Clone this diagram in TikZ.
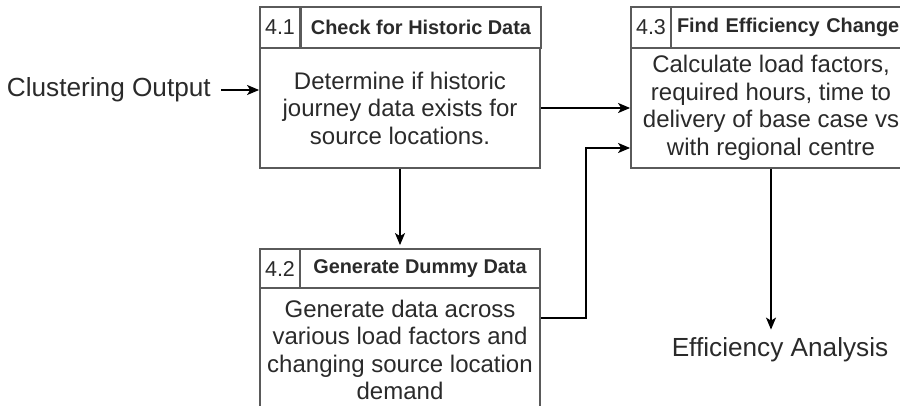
\documentclass[tikz,border=0pt]{standalone}
\usepackage{fontspec}
\setmainfont{Liberation Sans}
\usetikzlibrary{arrows.meta,calc}
\definecolor{boxline}{HTML}{5A5A5A}
\definecolor{txt}{HTML}{2A2A2A}
\tikzset{
  cellbase/.style={draw=boxline, line width=1.8pt, inner sep=0pt, anchor=center, text=txt},
  numcell/.style={cellbase, minimum width=40pt, font=\fontsize{21.5}{24}\selectfont},
  titlecell/.style={cellbase, minimum width=240pt, font=\bfseries\fontsize{19.9}{24}\selectfont},
  bodycell/.style={cellbase, minimum width=280pt, align=center, font=\fontsize{24}{27.5}\selectfont},
  plainlabel/.style={text=txt, inner sep=0pt, font=\fontsize{26.2}{30}\selectfont},
  flow/.style={draw=black, line width=1.5pt, -{Stealth[length=12pt,width=10pt,inset=3pt]}},
}
\begin{document}
\begin{tikzpicture}[x=1pt,y=-1pt]
\useasboundingbox (0,0) rectangle (900,406);
\clip (0,0) rectangle (900,406);
% box 4.1
\node[numcell, minimum height=41pt] (n1) at (280,27.5) {4.1};
\node[titlecell, minimum height=41pt] (t1) at (421,27.5) {Check for Historic Data};
\node[bodycell, minimum height=120pt] (b1) at (400,108) {Determine if historic\\journey data exists for\\source locations.};
% box 4.2
\node[numcell, minimum height=39pt] (n2) at (280,268.5) {4.2};
\node[titlecell, minimum height=39pt] (t2) at (420,268.5) {Generate Dummy Data};
\node[bodycell, minimum height=124pt] (b2) at (400,350) {Generate data across\\various load factors and\\changing source location\\demand};
% box 4.3
\node[numcell, minimum height=41pt] (n3) at (651,27.5) {4.3};
\node[titlecell, minimum height=41pt, text width=230pt, align=left] (t3) at (791,27.5) {\hspace*{1pt}Find Efficiency Change};
\node[bodycell, minimum height=120pt] (b3) at (771,108) {Calculate load factors,\\required hours, time to\\delivery of base case vs\\with regional centre};
% outside labels
\node[plainlabel, anchor=east] (co) at (211,90) {Clustering Output};
\node[plainlabel] (ea) at (780,350) {Efficiency Analysis};
\coordinate (cin) at ($(co.east)+(10,0)$);
\coordinate (bend) at ($(b2.east)+(45,-32)$);
\coordinate (eaend) at ($(b3.south |- ea.north)+(0,-8)$);
% connectors
\draw[flow] (cin) -- (cin -| b1.west);
\draw[flow] (b1.east) -- (b3.west);
\draw[flow, shorten >=3pt] (b1.south) -- (t2.north -| b1.south);
\draw[flow] ($(b2.east)+(0,-32)$) -- (bend) |- ($(b3.west)+(0,40)$);
\draw[flow] (b3.south) -- (eaend);
\end{tikzpicture}
\end{document}
